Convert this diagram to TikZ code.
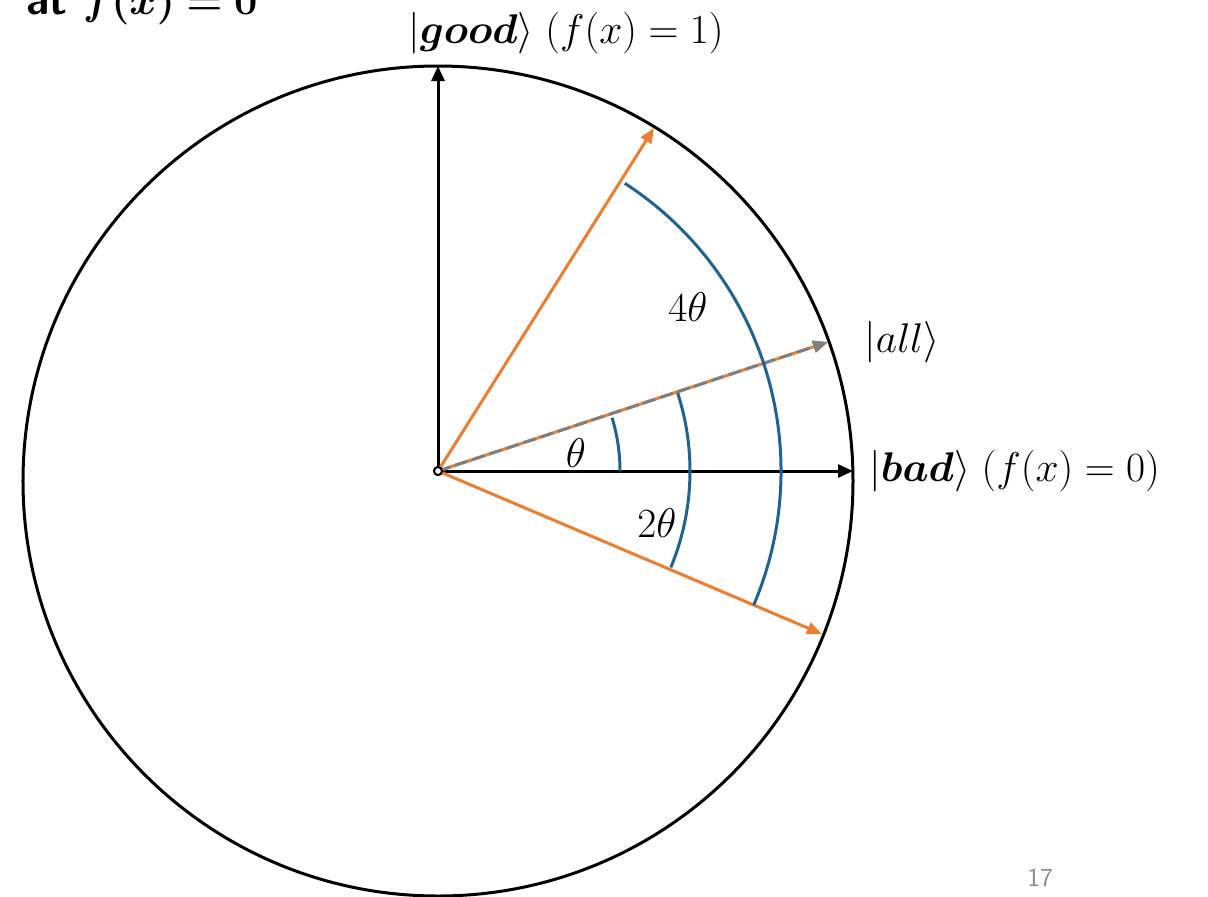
\documentclass[tikz,border=0pt]{standalone}
\usepackage{amsmath,amssymb,bm}
\usetikzlibrary{arrows.meta,calc,positioning}
\definecolor{gvInk}{HTML}{000000}
\definecolor{gvOrange}{HTML}{ED7D31}
\definecolor{gvBlue}{HTML}{1F6391}
\definecolor{gvGray}{HTML}{7F7F7F}
\definecolor{gvPage}{HTML}{8A8A8A}
\tikzset{
 bloch/.style={line cap=butt,line join=round,text=gvInk,font=\fontsize{22}{26}\selectfont},
 rim/.style={draw=gvInk,line width=1.5pt},
 axis/.style={draw=gvInk,line width=1.5pt,-{Triangle[length=7.5pt,width=6.5pt]}},
 state/.style={draw=gvOrange,line width=1.5pt,-{Triangle[length=7.5pt,width=6pt]}},
 uniform/.style={draw=gvGray,line width=1.5pt,dash pattern=on 6.5pt off 2.5pt,-{Triangle[length=7.5pt,width=6pt]}},
 anglearc/.style={draw=gvBlue,line width=1.5pt},
 origin/.style={circle,draw=gvInk,fill=white,line width=1pt,inner sep=0pt,minimum size=4pt},
 ket/.style={inner sep=0pt,anchor=west},
 headline/.style={anchor=base east,inner sep=0pt,font=\fontsize{22}{26}\selectfont\sffamily\bfseries},
 pagenum/.style={font=\fontsize{13}{15}\selectfont\sffamily,text=gvPage}
}

\begin{document}
\begin{tikzpicture}[bloch,x=0.5pt,y=0.5pt]
 \useasboundingbox (-438,-425) rectangle (770,471);
 \clip (-438,-425) rectangle (770,471);
 % points on the rim
 \coordinate (c) at (0,-10);
 \coordinate (goodTip) at (0,405);
 \coordinate (badTip) at (415,0);
 \coordinate (allTip) at (390,129);
 \coordinate (upTip) at (216,343);
 \coordinate (downTip) at (384,-163);
 \node[origin] (O) at (0,0) {};
 \draw[rim] (c) circle (415);
 \draw[axis] (O.center) -- (goodTip);
 \draw[axis] (O.center) -- (badTip);
 \draw[state] (O.center) -- (upTip);
 \draw[state] (O.center) -- (downTip);
 \draw[state] (O.center) -- (allTip);
 \draw[uniform] (O.center) -- (allTip);
 % angles
 \draw[anglearc] ($(O.center)+(0:182)$) arc[start angle=0,end angle=17,radius=182];
 \draw[anglearc] ($(O.center)+(-22.5:252)$) arc[start angle=-22.5,end angle=18,radius=252];
 \draw[anglearc] ($(O.center)+(-23:343)$) arc[start angle=-23,end angle=57,radius=343];
 \node[origin] at (O) {};
 \node (theta) at (138,18) {$\theta$};
 \node (twotheta) at (219,-52) {$2\theta$};
 \node (fourtheta) at (250,164) {$4\theta$};
 \node[ket,right=18pt of allTip] (allket) {$|all\rangle$};
 \node[ket,right=8pt of badTip] (badket) {$|\boldsymbol{bad}\rangle\;(f(x)=0)$};
 \node (goodket) at (128,438) {$|\boldsymbol{good}\rangle\;(f(x)=1)$};
 \node[headline] (topline) at (-180,457) {at $\bm{f(x)=0}$};
 \node[pagenum] (page) at (602,-407) {17};
\end{tikzpicture}
\end{document}
